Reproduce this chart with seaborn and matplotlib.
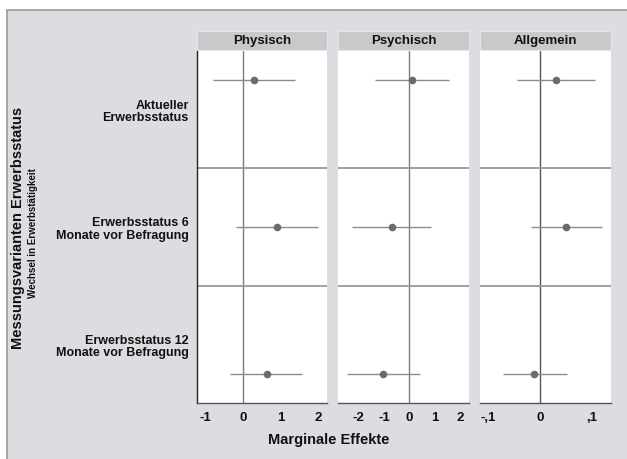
"""
Marginal effects of employment status measures (coefplot style, three panels)
"""

import numpy as np
import pandas as pd
import matplotlib
matplotlib.use("Agg")
import matplotlib.pyplot as plt
from matplotlib.patches import Rectangle
import seaborn as sns

# Data
outcomes = ["Physisch", "Psychisch", "Allgemein"]
measures = ["Aktueller\nErwerbsstatus",
            "Erwerbsstatus 6\nMonate vor Befragung",
            "Erwerbsstatus 12\nMonate vor Befragung"]

coef_physisch = [0.30, 0.91, 0.63]
lo_physisch = [-0.79, -0.18, -0.34]
hi_physisch = [1.39, 2.01, 1.58]

coef_psychisch = [0.11, -0.70, -1.02]
lo_psychisch = [-1.35, -2.25, -2.46]
hi_psychisch = [1.58, 0.87, 0.43]

coef_allgemein = [0.032, 0.051, -0.011]
lo_allgemein = [-0.045, -0.018, -0.072]
hi_allgemein = [0.108, 0.122, 0.052]

xticks = {
    "Physisch": ([-1, 0, 1, 2], ["-1", "0", "1", "2"]),
    "Psychisch": ([-2, -1, 0, 1, 2], ["-2", "-1", "0", "1", "2"]),
    "Allgemein": ([-0.1, 0, 0.1], ["-,1", "0", ",1"]),
}

# Layout / style
xlims = {"Physisch": (-1.22, 2.24), "Psychisch": (-2.81, 2.35), "Allgemein": (-0.1165, 0.1386)}
row_offset = [-0.25, 0.0, 0.25]
BG = "#dcdde0"
STRIP = "#c9c9cb"
DOT = "#6a6a6f"
LINE = "#8c8c8c"
TXT = "#111111"

rows = []
for name, c, l, h in [("Physisch", coef_physisch, lo_physisch, hi_physisch),
                      ("Psychisch", coef_psychisch, lo_psychisch, hi_psychisch),
                      ("Allgemein", coef_allgemein, lo_allgemein, hi_allgemein)]:
    for i, m in enumerate(measures):
        rows.append({"outcome": name, "measure": m, "idx": i,
                     "coef": c[i], "lo": l[i], "hi": h[i]})
df = pd.DataFrame(rows)
df["ypos"] = df["idx"] + np.array(row_offset)[df["idx"]]

sns.set_style("white")
plt.rcParams["font.family"] = ["Liberation Sans", "DejaVu Sans"]
plt.rcParams["font.weight"] = "bold"
plt.rcParams["text.color"] = TXT
plt.rcParams["xtick.color"] = TXT
plt.rcParams["ytick.color"] = TXT

fig = plt.figure(figsize=(6.27, 4.60), dpi=100)
fig.patch.set_facecolor("white")
fig.patches.append(Rectangle((7 / 627, -0.1), 1.0, 1 - 11 / 460 + 0.1,
                             transform=fig.transFigure, facecolor=BG,
                             edgecolor="#9a9a9a", lw=1.2, zorder=-10))

W, H = 627, 460
top_px, bot_px = 52, 404
lefts = [197, 338, 480]
widths = [130, 131, 131]
ax_h = bot_px - top_px

for k, name in enumerate(outcomes):
    ax = fig.add_axes([lefts[k] / W, 1 - bot_px / H, widths[k] / W, ax_h / H])
    ax.set_facecolor("white")
    sub = df[df["outcome"] == name]

    ax.axvline(0, color="#555555" if name == "Allgemein" else "#7d7d7d", lw=1.0, zorder=1)
    for yb in [0.5, 1.5]:
        ax.axhline(yb, color="#9a9a9a", lw=1.3, zorder=1)
    ax.hlines(sub["ypos"], sub["lo"], sub["hi"], color=LINE, lw=1.0, zorder=2)
    sns.scatterplot(data=sub, x="coef", y="ypos", ax=ax, color=DOT, s=30,
                    edgecolor=DOT, linewidth=0, zorder=3, legend=False)

    ax.set_xlim(*xlims[name])
    ax.set_ylim(2.5, -0.5)
    ticks, labels = xticks[name]
    ax.set_xticks(ticks)
    ax.set_xticklabels(labels, fontsize=9.5, fontweight="bold")
    ax.tick_params(axis="x", direction="out", length=4, width=0.8, color="#333333", pad=2)
    ax.set_xlabel("")
    ax.set_ylabel("")

    for s in ["top", "right"]:
        ax.spines[s].set_visible(False)
    ax.spines["bottom"].set_color("#555555")
    ax.spines["bottom"].set_linewidth(1.0)
    if k == 0:
        ax.set_yticks(range(len(measures)))
        ax.set_yticklabels(measures, fontsize=9, fontweight="bold", linespacing=1.0)
        ax.tick_params(axis="y", direction="out", length=4, width=0.8, color="#222222", pad=2)
        ax.spines["left"].set_color("#222222")
        ax.spines["left"].set_linewidth(1.0)
    else:
        ax.set_yticks([])
        ax.spines["left"].set_visible(False)

    # strip title
    gap = 1 / ax_h
    sh = 19 / ax_h
    ax.add_patch(Rectangle((0, 1 + gap), 1, sh, transform=ax.transAxes,
                           facecolor=STRIP, edgecolor="#e6e6e8", lw=0.8, clip_on=False))
    ax.text(0.5, 1 + gap + sh / 2, name, transform=ax.transAxes, ha="center",
            va="center", fontsize=9.5, fontweight="bold")

fig.text(18.5 / W, 1 - 228 / H, "Messungsvarianten Erwerbsstatus", rotation=90,
         ha="center", va="center", fontsize=10.5, fontweight="bold")
fig.text(33 / W, 1 - 233 / H, "Wechsel in Erwerbstätigkeit", rotation=90,
         ha="center", va="center", fontsize=7, fontweight="bold")
fig.text(329 / W, 1 - 440 / H, "Marginale Effekte", ha="center", va="center",
         fontsize=10.5, fontweight="bold")

plt.savefig("out.png", dpi=100, facecolor=fig.get_facecolor())
plt.close()
